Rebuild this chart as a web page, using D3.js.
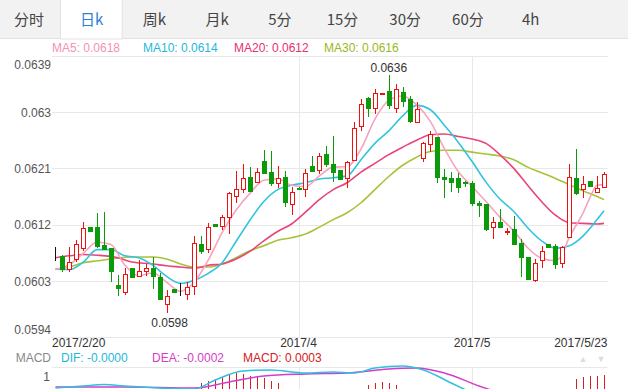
<!DOCTYPE html>
<html>
<head>
<meta charset="utf-8">
<script src="https://cdn.jsdelivr.net/npm/d3@7/dist/d3.min.js"></script>
<style>
  body { margin: 0; background: #fff; }
  svg { display: block; font-family: "Liberation Sans", Arial, sans-serif; }
</style>
</head>
<body>
<svg id="chart" width="628" height="389"></svg>
<script>
// tabs on top of the chart
const tabs = ["分时", "日k", "周k", "月k", "5分", "15分", "30分", "60分", "4h"];
const activeTab = 1;

// daily candles, 2017/2/20 .. 2017/5/23
const opens = [0.06073,0.06070,0.06048,0.06065,0.06083,0.06116,0.06116,0.06088,0.06083,0.06024,
  0.06012,0.06051,0.06038,0.06046,0.06051,0.06036,0.05993,0.06017,0.06009,0.06009,
  0.06022,0.06089,0.06081,0.06121,0.06118,0.06132,0.06166,0.06177,0.06196,0.06188,
  0.06222,0.06204,0.06187,0.06196,0.06153,0.06179,0.06177,0.06214,0.06208,0.06233,
  0.06217,0.06208,0.06195,0.06224,0.06278,0.06323,0.06307,0.06329,0.06334,0.06307,
  0.06332,0.06321,0.06284,0.06227,0.06249,0.06260,0.06196,0.06195,0.06195,0.06188,
  0.06187,0.06155,0.06153,0.06116,0.06124,0.06108,0.06113,0.06091,0.06068,0.06032,
  0.06064,0.06089,0.06086,0.06059,0.06100,0.06195,0.06177,0.06190,0.06172,0.06180];
const highs = [0.06084,0.06072,0.06084,0.06096,0.06124,0.06116,0.06139,0.06140,0.06083,0.06040,
  0.06051,0.06051,0.06064,0.06057,0.06068,0.06043,0.06016,0.06017,0.06027,0.06028,
  0.06102,0.06102,0.06123,0.06121,0.06136,0.06172,0.06206,0.06217,0.06212,0.06211,
  0.06240,0.06238,0.06214,0.06206,0.06180,0.06180,0.06209,0.06230,0.06235,0.06246,
  0.06262,0.06208,0.06222,0.06284,0.06321,0.06324,0.06337,0.06331,0.06360,0.06345,
  0.06340,0.06326,0.06316,0.06252,0.06270,0.06260,0.06209,0.06204,0.06203,0.06190,
  0.06190,0.06158,0.06153,0.06132,0.06145,0.06115,0.06134,0.06097,0.06068,0.06065,
  0.06086,0.06089,0.06089,0.06086,0.06217,0.06241,0.06198,0.06190,0.06198,0.06204];
const lows = [0.06062,0.06044,0.06044,0.06060,0.06078,0.06108,0.06083,0.06080,0.06028,0.06006,
  0.06008,0.06035,0.06036,0.06038,0.06017,0.06000,0.05979,0.06011,0.06006,0.06000,
  0.06008,0.06073,0.06075,0.06116,0.06112,0.06105,0.06155,0.06171,0.06174,0.06188,
  0.06203,0.06182,0.06179,0.06148,0.06136,0.06176,0.06164,0.06206,0.06201,0.06212,
  0.06188,0.06193,0.06179,0.06224,0.06270,0.06292,0.06297,0.06329,0.06305,0.06299,
  0.06308,0.06283,0.06283,0.06220,0.06236,0.06187,0.06163,0.06172,0.06171,0.06180,
  0.06150,0.06132,0.06110,0.06097,0.06115,0.06104,0.06089,0.06036,0.06032,0.06028,
  0.06051,0.06084,0.06049,0.06051,0.06100,0.06168,0.06163,0.06180,0.06172,0.06179];
const closes = [0.06073,0.06049,0.06060,0.06089,0.06115,0.06110,0.06086,0.06081,0.06046,0.06019,
  0.06041,0.06036,0.06046,0.06051,0.06038,0.06001,0.06006,0.06012,0.06009,0.06020,
  0.06091,0.06078,0.06116,0.06118,0.06132,0.06171,0.06177,0.06195,0.06174,0.06204,
  0.06203,0.06187,0.06195,0.06156,0.06172,0.06177,0.06203,0.06206,0.06230,0.06217,
  0.06204,0.06193,0.06220,0.06275,0.06313,0.06307,0.06331,0.06331,0.06312,0.06337,
  0.06318,0.06286,0.06305,0.06251,0.06265,0.06196,0.06193,0.06188,0.06180,0.06187,
  0.06155,0.06152,0.06113,0.06124,0.06116,0.06109,0.06089,0.06068,0.06033,0.06059,
  0.06078,0.06084,0.06057,0.06084,0.06196,0.06171,0.06185,0.06182,0.06179,0.06201];

// moving averages read at [candle index, value]
const ma5 = [[0,.06048],[2,.06056],[4,.06074],[6,.06092],[8,.06088],[10,.06055],[12,.06038],[14,.06043],
  [16,.06028],[18,.06013],[20,.06028],[22,.06063],[24,.06107],[26,.06143],[28,.06170],[30,.06191],
  [32,.06193],[34,.06183],[36,.06181],[38,.06198],[40,.06212],[42,.06213],[44,.06241],[46,.06289],
  [48,.06319],[50,.06326],[52,.06312],[54,.06285],[56,.06242],[58,.06205],[60,.06181],[62,.06157],
  [64,.06132],[66,.06110],[68,.06083],[70,.06066],[72,.06062],[73,.06073],[74,.06100],[75,.06119],
  [76,.06139],[77,.06164],[78,.06183],[79,.06184]];
const ma10 = [[0,.06049],[2,.06048],[4,.06060],[6,.06080],[8,.06080],[10,.06070],[12,.06067],[14,.06055],
  [16,.06037],[18,.06026],[20,.06031],[22,.06042],[24,.06059],[26,.06093],[28,.06127],[30,.06157],
  [32,.06176],[34,.06183],[36,.06187],[38,.06193],[40,.06195],[42,.06198],[44,.06224],[46,.06250],
  [48,.06270],[50,.06294],[52,.06311],[54,.06304],[56,.06279],[58,.06252],[60,.06221],[62,.06188],
  [64,.06161],[66,.06141],[68,.06115],[70,.06094],[72,.06082],[74,.06086],[76,.06102],[78,.06128],[79,.06142]];
const ma20 = [[0,.06067],[2,.06070],[4,.06072],[6,.06071],[9,.06067],[11,.06060],[14,.06057],[16,.06054],
  [18,.06052],[20,.06050],[22,.06055],[24,.06057],[26,.06065],[28,.06077],[30,.06094],[32,.06109],
  [34,.06121],[36,.06140],[38,.06160],[40,.06176],[42,.06187],[44,.06204],[46,.06218],[48,.06232],
  [50,.06244],[52,.06255],[54,.06264],[56,.06265],[58,.06261],[60,.06257],[62,.06250],[64,.06232],
  [66,.06210],[68,.06183],[70,.06157],[72,.06135],[74,.06123],[76,.06122],[78,.06121],[79,.06122]];
const ma30 = [[0,.06048],[2,.06052],[4,.06059],[6,.06062],[8,.06065],[11,.06068],[14,.06068],[16,.06065],
  [18,.06057],[20,.06052],[22,.06052],[24,.06057],[26,.06067],[28,.06078],[30,.06086],[32,.06095],
  [34,.06099],[36,.06105],[38,.06116],[40,.06128],[42,.06139],[44,.06155],[46,.06176],[48,.06197],
  [50,.06215],[52,.06228],[54,.06237],[56,.06239],[58,.06239],[60,.06236],[62,.06233],[64,.06230],
  [66,.06224],[68,.06212],[70,.06203],[72,.06194],[74,.06184],[76,.06174],[78,.06165],[79,.06160]];

const maNames = ["MA5", "MA10", "MA20", "MA30"];
const maLast = ["0.0618", "0.0614", "0.0612", "0.0616"];
const maColors = ["#f7a3bf", "#33c3e0", "#ea4479", "#a5c43a"];
const maText = ["#f590b3", "#1fb8d9", "#e8306a", "#99b81e"];

const yTicks = [0.0639, 0.063, 0.0621, 0.0612, 0.0603, 0.0594];
const dateTicks = [0, 35, 60, 79];
const dateLabels = ["2017/2/20", "2017/4", "2017/5", "2017/5/23"];

// MACD panel (only its top edge is visible)
const macdNames = ["DIF", "DEA", "MACD"];
const macdLast = ["-0.0000", "-0.0002", "0.0003"];
const macdColors = ["#1fb8d9", "#d43dc8", "#d42020"];
const dif = [[0,0.45],[4,0.55],[7,0.62],[10,0.55],[15,0.45],[20,0.4],[23,0.85],[27,1.3],[31,1.35],
  [36,1.2],[40,1.25],[43,1.2],[46,1.45],[50,1.55],[53,1.35],[57,0.7],[60,0.2]];
const dea = [[0,0.5],[10,0.5],[20,0.45],[25,0.75],[30,1.05],[36,1.15],[42,1.2],[48,1.4],[52,1.45],
  [56,1.2],[61,0.55],[64,0.2]];
const macdBars = [[21,0.7],[22,0.8],[23,0.9],[24,1.0],[25,1.1],[26,1.2],[27,1.15],[28,1.05],[29,1.0],
  [30,0.95],[31,0.8],[32,0.7],[45,0.6],[46,0.7],[47,0.75],[48,0.7],[49,0.6],
  [75,0.9],[76,1.0],[77,1.05],[78,1.05],[79,1.1]];

const svg = d3.select("#chart");
const plotL = 52, plotR = 607.5, plotT = 56, plotB = 337;

const x = d3.scaleBand()
  .domain(d3.range(closes.length))
  .range([plotL, plotR])
  .paddingInner(0.3)
  .paddingOuter(0.15);
const cx = i => x(i) + x.bandwidth() / 2;
const y = d3.scaleLinear().domain([0.0594, 0.0639]).range([plotB, plotT]);

// ---- tab bar
const tabW = 62.7;
svg.append("rect").attr("x", 0).attr("y", 0).attr("width", 628).attr("height", 38)
  .attr("fill", "#f2f2f2");
svg.append("line").attr("x1", 0).attr("x2", 628).attr("y1", 38.5).attr("y2", 38.5)
  .attr("stroke", "#e2e2e2");
svg.append("rect")
  .attr("x", 60.5).attr("y", -1).attr("width", tabW - 1).attr("height", 40)
  .attr("fill", "#fff").attr("stroke", "#e2e2e2");
svg.append("g").selectAll("text")
  .data(tabs)
  .join("text")
  .attr("x", (d, i) => 29 + i * tabW)
  .attr("y", 25)
  .attr("text-anchor", "middle")
  .attr("font-family", "'Noto Sans CJK SC', sans-serif")
  .attr("font-size", 15)
  .attr("fill", (d, i) => i === activeTab ? "#2f7fd1" : "#444")
  .text(d => d);

// ---- MA legend
const legendX = [52, 143, 234, 324];
svg.append("g").selectAll("text")
  .data(maNames)
  .join("text")
  .attr("x", (d, i) => legendX[i])
  .attr("y", 52)
  .attr("font-size", 12)
  .attr("fill", (d, i) => maText[i])
  .text((d, i) => d + ": " + maLast[i]);

// ---- grid
const grid = svg.append("g").attr("stroke", "#e8e8e8").attr("shape-rendering", "crispEdges");
grid.selectAll(".h")
  .data(yTicks)
  .join("line")
  .attr("x1", plotL).attr("x2", plotR)
  .attr("y1", d => Math.round(y(d)) + 0.5)
  .attr("y2", d => Math.round(y(d)) + 0.5);
grid.selectAll(".v")
  .data(dateTicks.slice(1, 3))
  .join("line")
  .attr("x1", d => Math.round(cx(d)) + 0.5)
  .attr("x2", d => Math.round(cx(d)) + 0.5)
  .attr("y1", plotT).attr("y2", plotB);

// ---- y axis labels
const yAxis = svg.append("g")
  .attr("transform", `translate(${plotL - 1},0)`)
  .call(d3.axisLeft(y).tickValues(yTicks).tickSize(0).tickPadding(0).tickFormat(d3.format("")));
yAxis.select(".domain").remove();
yAxis.selectAll("text")
  .attr("font-family", "'Liberation Sans', Arial, sans-serif")
  .attr("font-size", 12)
  .attr("fill", "#555")
  .attr("dy", (d, i) => i === 0 ? "1.05em" : (i === yTicks.length - 1 ? "-0.3em" : "0.35em"));

// ---- date axis
const xAxis = svg.append("g")
  .attr("transform", `translate(0,${plotB})`)
  .call(d3.axisBottom(x).tickValues(dateTicks).tickSize(0).tickPadding(1)
    .tickFormat((d, i) => dateLabels[i]));
xAxis.select(".domain").remove();
xAxis.selectAll(".tick").attr("transform", d => `translate(${cx(d)},0)`);
xAxis.selectAll("text")
  .attr("font-family", "'Liberation Sans', Arial, sans-serif")
  .attr("font-size", 12)
  .attr("fill", "#333")
  .attr("text-anchor", (d, i) => i === 0 ? "start" : (i === dateTicks.length - 1 ? "end" : "middle"))
  .attr("dx", (d, i) => i === 0 ? -3.5 : (i === dateTicks.length - 1 ? 3.5 : 0));

// ---- MA lines
const maLine = d3.line()
  .x(d => cx(d[0]))
  .y(d => y(d[1]))
  .curve(d3.curveMonotoneX);
svg.append("g").selectAll("path")
  .data([ma30, ma20, ma10, ma5])
  .join("path")
  .attr("d", maLine)
  .attr("fill", "none")
  .attr("stroke", (d, i) => maColors[3 - i])
  .attr("stroke-width", 1.6);

// ---- candles
const candles = d3.range(closes.length).map(i => ({
  i, o: opens[i], h: highs[i], l: lows[i], c: closes[i]
}));
const colorOf = d => d.c > d.o ? "#f01010" : (d.c < d.o ? "#0a9a0a" : "#111");
const bodyW = Math.round(x.bandwidth());
const cg = svg.append("g").attr("shape-rendering", "crispEdges");
const candle = cg.selectAll("g").data(candles).join("g");
candle.append("line")
  .attr("x1", d => Math.round(cx(d.i)) + 0.5)
  .attr("x2", d => Math.round(cx(d.i)) + 0.5)
  .attr("y1", d => y(d.h))
  .attr("y2", d => y(d.l))
  .attr("stroke", colorOf);
candle.append("rect")
  .attr("x", d => Math.round(cx(d.i)) - Math.floor(bodyW / 2) + 0.5)
  .attr("y", d => Math.round(y(Math.max(d.o, d.c))) + 0.5)
  .attr("width", bodyW - 1)
  .attr("height", d => Math.max(0, Math.round(Math.abs(y(d.o) - y(d.c)))))
  .attr("fill", d => d.c > d.o ? "#fff" : colorOf(d))
  .attr("stroke", colorOf);

// ---- max / min labels
const iMax = d3.maxIndex(highs), iMin = d3.minIndex(lows);
svg.append("text")
  .attr("x", cx(iMax)).attr("y", y(highs[iMax]) - 3)
  .attr("text-anchor", "middle").attr("font-size", 12).attr("fill", "#333")
  .text(d3.format(".4f")(highs[iMax]));
svg.append("text")
  .attr("x", cx(iMin) + 3).attr("y", y(lows[iMin]) + 14)
  .attr("text-anchor", "middle").attr("font-size", 12).attr("fill", "#333")
  .text(d3.format(".4f")(lows[iMin]));

// ---- MACD panel
const mTop = 367;
const legendY = 362;
const my = d3.scaleLinear().domain([1, 1.5]).range([377, 367]);
svg.append("text").attr("x", 51).attr("y", legendY).attr("text-anchor", "end")
  .attr("font-size", 12).attr("fill", "#888").text("MACD");
const macdX = [61, 152, 243];
svg.append("g").selectAll("text")
  .data(macdNames)
  .join("text")
  .attr("x", (d, i) => macdX[i])
  .attr("y", legendY)
  .attr("font-size", 12)
  .attr("fill", (d, i) => macdColors[i])
  .text((d, i) => d + ": " + macdLast[i]);
svg.append("text").attr("x", 583).attr("y", legendY).attr("text-anchor", "middle")
  .attr("font-size", 9).attr("fill", "#ddd").text("▲");
svg.append("text").attr("x", 601).attr("y", legendY).attr("text-anchor", "middle")
  .attr("font-size", 9).attr("fill", "#ddd").text("▼");
svg.append("line").attr("x1", plotL).attr("x2", plotR).attr("y1", mTop + 0.5).attr("y2", mTop + 0.5)
  .attr("stroke", "#e8e8e8");
svg.append("g").attr("stroke", "#e8e8e8").selectAll("line")
  .data(dateTicks.slice(1, 3))
  .join("line")
  .attr("x1", d => Math.round(cx(d)) + 0.5)
  .attr("x2", d => Math.round(cx(d)) + 0.5)
  .attr("y1", mTop).attr("y2", 389);
svg.append("text").attr("x", 50).attr("y", my(1) + 4).attr("text-anchor", "end")
  .attr("font-size", 12).attr("fill", "#555").text("1");
svg.append("g").attr("shape-rendering", "crispEdges").selectAll("line")
  .data(macdBars)
  .join("line")
  .attr("x1", d => Math.round(cx(d[0])) + 0.5)
  .attr("x2", d => Math.round(cx(d[0])) + 0.5)
  .attr("y1", d => my(d[1]))
  .attr("y2", 400)
  .attr("stroke", "#d42020");
const mLine = d3.line().x(d => cx(d[0])).y(d => my(d[1])).curve(d3.curveMonotoneX);
svg.append("path").attr("d", mLine(dea)).attr("fill", "none").attr("stroke", "#d43dc8").attr("stroke-width", 1.5);
svg.append("path").attr("d", mLine(dif)).attr("fill", "none").attr("stroke", "#2ec0e0").attr("stroke-width", 1.5);
</script>
</body>
</html>
